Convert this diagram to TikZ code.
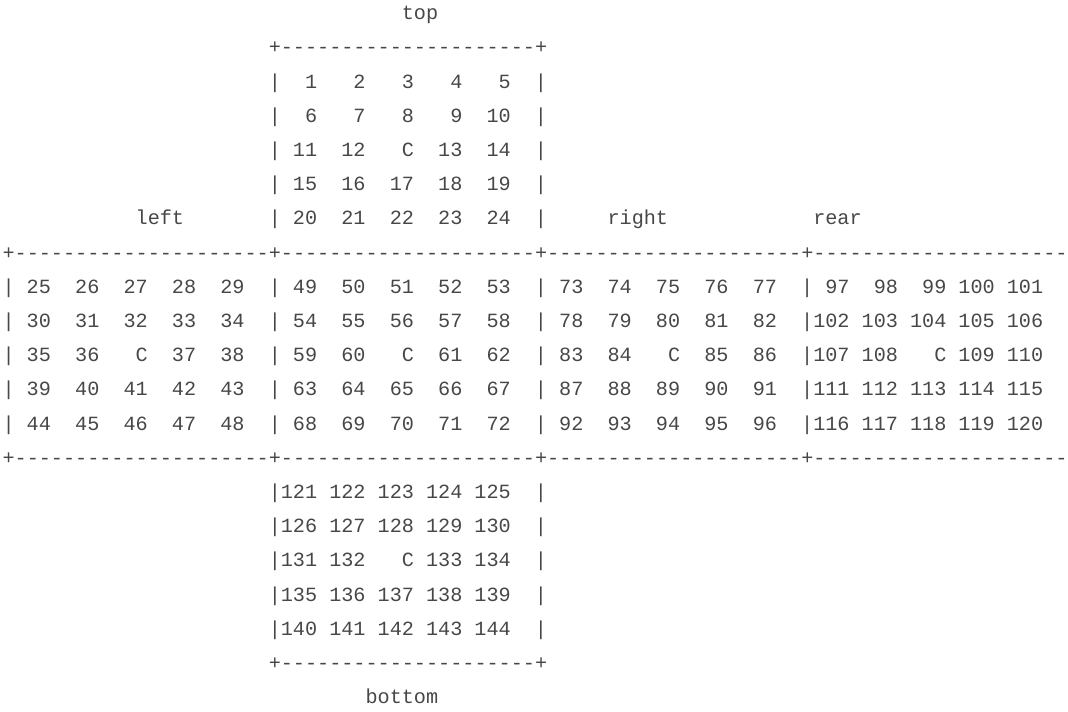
\documentclass[tikz,border=0pt]{standalone}
\usepackage{fontspec}
\setmonofont{Liberation Mono}

\colorlet{inkgray}{black!72}
\newcommand{\rimrun}{\foreach \d in {1,...,21}{-}}

\begin{document}
\begin{tikzpicture}[
    x=12.1pt, y=-34.2pt,
    glyph/.style={inner sep=0pt, outer sep=0pt, text=inkgray, font=\ttfamily\fontsize{20.17pt}{24pt}\selectfont},
    cell/.style={glyph, anchor=mid east},
    bar/.style={glyph, anchor=mid},
    rim/.style={glyph, anchor=mid west},
    facelabel/.style={glyph, anchor=mid west},
]
\useasboundingbox (-0.711,-0.515) rectangle (87.55,20.275);

% Face labels
\node[facelabel] (top-label) at (32.5,0) {top};
\node[facelabel] (left-label) at (10.5,6) {left};
\node[facelabel] (right-label) at (49.5,6) {right};
\node[facelabel] (rear-label) at (66.5,6) {rear};
\node[facelabel] (bottom-label) at (29.5,20) {bottom};

% Horizontal rims (the long ones run into the right edge)
\node[rim] (top-rim) at (21.5,1) {+\rimrun+};
\node[rim] (upper-rim) at (-0.5,7) {+\rimrun+\rimrun+\rimrun+\rimrun};
\node[rim] (lower-rim) at (-0.5,13) {+\rimrun+\rimrun+\rimrun+\rimrun};
\node[rim] (bottom-rim) at (21.5,19) {+\rimrun+};

% Vertical bars
\foreach \ln in {2,3,4,5,6,14,15,16,17,18}
    \foreach \col in {22,44}
        \node[bar] (bar-\ln-\col) at (\col,\ln) {|};
\foreach \ln in {8,...,12}
    \foreach \col in {0,22,44,66}
        \node[bar] (bar-\ln-\col) at (\col,\ln) {|};

% Numbered cells, C in the middle of each face
\foreach \fname/\cx/\ly/\first in {top/22/1/1, left/0/7/25, front/22/7/49, right/44/7/73, rear/66/7/97, bottom/22/13/121} {
    \foreach \r in {1,...,5} {
        \foreach \c in {1,...,5} {
            \pgfmathtruncatemacro{\idx}{(\r-1)*5+\c}
            \pgfmathtruncatemacro{\num}{\first+\idx-1-(\idx>13)}
            \ifnum\idx=13 \def\lbl{C}\else \let\lbl\num\fi
            \node[cell] (\fname-\r-\c) at (\cx+4*\c-0.5,\ly+\r) {\lbl};
        }
    }
}

\end{tikzpicture}
\end{document}
